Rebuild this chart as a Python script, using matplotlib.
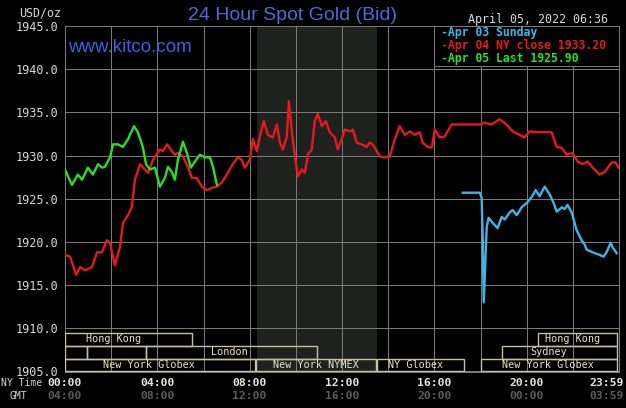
import matplotlib
matplotlib.use("Agg")
import matplotlib.pyplot as plt
from matplotlib.patches import Rectangle
import matplotlib.transforms as mtransforms

# ---------------- data (hours NY time, USD/oz) ----------------
red_hours = [0, 0.22, 0.48, 0.65, 0.87, 1.17, 1.39, 1.60, 1.82, 1.95, 2.16, 2.38, 2.51, 2.73, 2.90,
             3.03, 3.25, 3.46, 3.59, 3.81, 4.11, 4.24, 4.42, 4.63, 4.76, 4.89, 5.11, 5.32, 5.50,
             5.71, 5.93, 6.15, 6.41, 6.58, 6.80, 7.01, 7.27, 7.49, 7.66, 7.79, 8.01, 8.14, 8.31,
             8.44, 8.61, 8.79, 9.00, 9.18, 9.31, 9.44, 9.61, 9.70, 9.83, 9.96, 10.09, 10.26, 10.39,
             10.52, 10.69, 10.82, 10.95, 11.13, 11.30, 11.47, 11.69, 11.82, 11.99, 12.12, 12.34,
             12.47, 12.64, 12.86, 13.07, 13.20, 13.33, 13.51, 13.64, 13.85, 14.07, 14.29, 14.50,
             14.72, 14.94, 15.15, 15.37, 15.50, 15.71, 15.89, 16.02, 16.23, 16.45, 16.75, 17.97,
             18.18, 18.48, 18.83, 19.13, 19.39, 19.70, 19.91, 20.13, 20.43, 20.78, 21.08, 21.30,
             21.52, 21.73, 21.99, 22.21, 22.42, 22.64, 22.86, 23.16, 23.38, 23.68, 23.85, 23.98]
red_prices = [1918.5, 1918.3, 1916.2, 1917.1, 1916.7, 1917.1, 1918.8, 1918.8, 1920.2, 1919.9,
              1917.3, 1919.4, 1922.2, 1923.1, 1924.1, 1927.2, 1929.0, 1928.4, 1928.0, 1929.5,
              1930.7, 1930.5, 1931.3, 1930.5, 1930.1, 1930.3, 1929.9, 1928.7, 1927.4, 1927.4,
              1926.4, 1926.0, 1926.3, 1926.4, 1926.9, 1927.8, 1929.0, 1929.8, 1929.5, 1928.6,
              1929.5, 1931.9, 1930.5, 1932.2, 1934.0, 1932.4, 1932.1, 1933.6, 1931.5, 1930.7,
              1932.2, 1936.3, 1932.7, 1929.9, 1927.6, 1928.4, 1928.0, 1930.1, 1930.7, 1934.0,
              1934.8, 1933.4, 1934.0, 1932.7, 1932.1, 1930.7, 1931.9, 1933.0, 1932.8, 1933.0,
              1931.5, 1931.3, 1931.0, 1931.5, 1931.3, 1930.5, 1929.9, 1929.8, 1929.9, 1931.9,
              1933.4, 1932.4, 1932.8, 1932.4, 1932.7, 1931.5, 1931.0, 1930.9, 1933.0, 1932.1,
              1932.2, 1933.6, 1933.6, 1933.8, 1933.6, 1934.2, 1933.6, 1932.8, 1932.4, 1932.1,
              1932.8, 1932.7, 1932.7, 1932.7, 1931.0, 1930.9, 1930.1, 1930.3, 1929.3, 1929.0,
              1929.3, 1928.6, 1927.8, 1928.1, 1929.2, 1929.2, 1928.6]

green_hours = [0, 0.13, 0.30, 0.43, 0.56, 0.74, 0.99, 1.21, 1.43, 1.60, 1.73, 1.95, 2.08, 2.29,
               2.51, 2.73, 2.99, 3.16, 3.38, 3.51, 3.68, 3.90, 4.11, 4.33, 4.46, 4.63, 4.76, 4.89,
               5.11, 5.28, 5.45, 5.63, 5.84, 6.06, 6.28, 6.41, 6.58]
green_prices = [1928.4, 1927.6, 1926.6, 1927.2, 1927.8, 1927.2, 1928.6, 1927.8, 1929.0, 1928.6,
                1928.7, 1929.8, 1931.3, 1931.3, 1931.0, 1931.9, 1933.4, 1932.7, 1930.9, 1929.0,
                1928.4, 1928.6, 1926.4, 1927.4, 1928.7, 1928.1, 1927.2, 1929.5, 1931.6, 1930.3,
                1928.6, 1929.3, 1930.1, 1929.8, 1929.8, 1928.7, 1926.6]

cyan_hours = [17.23, 17.97, 18.05, 18.10, 18.14, 18.23, 18.27, 18.35, 18.53, 18.74, 18.92, 19.05,
              19.26, 19.39, 19.57, 19.78, 20.00, 20.22, 20.39, 20.56, 20.78, 21.00, 21.17, 21.30,
              21.52, 21.65, 21.77, 21.95, 22.16, 22.38, 22.51, 22.60, 22.86, 23.16, 23.33, 23.46,
              23.64, 23.72, 23.90]
cyan_prices = [1925.7, 1925.7, 1925.1, 1919.9, 1913.0, 1919.1, 1921.7, 1922.8, 1922.2, 1921.6,
               1922.9, 1922.6, 1923.4, 1923.7, 1923.1, 1924.0, 1924.5, 1925.2, 1926.0, 1925.3,
               1926.4, 1925.5, 1924.5, 1923.5, 1924.0, 1923.8, 1924.3, 1923.4, 1921.4, 1920.2,
               1919.7, 1919.1, 1918.8, 1918.5, 1918.3, 1918.8, 1919.9, 1919.4, 1918.7]

y_ticks = [1905, 1910, 1915, 1920, 1925, 1930, 1935, 1940, 1945]
ny_time_hours = [0, 4, 8, 12, 16, 20]
ny_time_labels = ["00:00", "04:00", "08:00", "12:00", "16:00", "20:00"]
gmt_labels = ["04:00", "08:00", "12:00", "16:00", "20:00", "00:00"]
end_label_ny = "23:59"
end_label_gmt = "03:59"

legend_labels = ["-Apr 03 Sunday", "-Apr 04 NY close 1933.20", "-Apr 05 Last 1925.90"]

comex_span = (8.33, 13.5)

# sessions: (row, start, end, label, label_x)
sessions = [
    (0, 0.0, 5.5, "Hong Kong", 2.12),
    (0, 20.5, 23.92, "Hong Kong", 22.0),
    (1, 0.0, 0.95, "", None),
    (1, 0.95, 3.5, "", None),
    (1, 3.5, 10.9, "London", 7.14),
    (1, 18.92, 23.92, "Sydney", 20.95),
    (2, 0.0, 8.22, "New York Globex", 3.64),
    (2, 8.27, 13.46, "New York NYMEX", 10.87),
    (2, 13.5, 17.27, "NY Globex", 15.17),
    (2, 18.0, 23.92, "New York Globex", 20.9),
]

# ---------------- styling ----------------
BG = "black"
GRID = "#7a7a7a"
RED = "#e61a1a"
GREEN = "#28e028"
CYAN = "#3cb6e8"
TICK = "#d8d8d8"
SESS_EDGE = "#c8c09c"
SESS_TEXT = "#ece6c8"
MONO = "DejaVu Sans Mono"

W, H = 626, 408
fig = plt.figure(figsize=(W / 100, H / 100), dpi=100, facecolor=BG)
ax = fig.add_axes([65 / W, (H - 371.5) / H, (619 - 65) / W, (371.5 - 26) / H], facecolor=BG)

ax.set_xlim(0, 24)
ax.set_ylim(1905, 1945)
ax.set_xticks(range(0, 25, 2))
ax.set_xticklabels([])
ax.set_yticks(y_ticks)
ax.set_yticklabels([f"{v:.1f}" for v in y_ticks], fontfamily=MONO, fontsize=8.5, color=TICK)
ax.tick_params(length=0, pad=5)
ax.set_axisbelow(True)
ax.grid(True, color=GRID, lw=0.72, snap=True)
for s in ax.spines.values():
    s.set_color(GRID)
    s.set_linewidth(0.72)

# COMEX shaded region
ax.axvspan(*comex_span, color="#1f211f", zorder=0.5, lw=0)

# data lines
ax.plot(cyan_hours, cyan_prices, color=CYAN, lw=1.7, zorder=4)
ax.plot(red_hours, red_prices, color=RED, lw=1.7, zorder=4)
ax.plot(green_hours, green_prices, color=GREEN, lw=1.7, zorder=5)

# session boxes
row_bounds = [(1908.0, 1909.5), (1906.5, 1908.0), (1905.05, 1906.5)]
for row, x0, x1, label, lx in sessions:
    y0, y1 = row_bounds[row]
    ax.add_patch(Rectangle((x0, y0), x1 - x0, y1 - y0, fill=False,
                           edgecolor=SESS_EDGE, lw=1.0, zorder=3))
    if label:
        ax.text(lx, (y0 + y1) / 2, label, ha="center", va="center", fontfamily=MONO,
                fontsize=7.3, color=SESS_TEXT, zorder=6)

# legend box
ax.add_patch(Rectangle((16, 1940.35), 8, 4.65, facecolor=BG, edgecolor=GRID, lw=0.72, zorder=3.5))
for i, (lab, col) in enumerate(zip(legend_labels, [CYAN, RED, GREEN])):
    fig.text(441 / W, 1 - (32.5 + 13 * i) / H, lab, ha="left", va="center",
             fontfamily=MONO, fontsize=8.3, color=col, fontweight="bold")

# titles
fig.text(293 / W, 1 - 16 / H, "24 Hour Spot Gold (Bid)", ha="center", va="center",
         fontfamily="Liberation Sans", fontsize=14, color="#5666d4")
fig.text(68 / W, 1 - 47.5 / H, "www.kitco.com", ha="left", va="center",
         fontfamily="Liberation Sans", fontsize=13.5, color="#3f5fe0")
fig.text(608 / W, 1 - 19 / H, "April 05, 2022 06:36", ha="right", va="center",
         fontfamily=MONO, fontsize=8.4, color=TICK)
fig.text(19 / W, 1 - 12.5 / H, "USD/oz", ha="left", va="center",
         fontfamily=MONO, fontsize=8.4, color=TICK)

# time axis labels
trans = mtransforms.blended_transform_factory(ax.transData, fig.transFigure)
y_ny = 1 - 383 / H
y_gmt = 1 - 396 / H
for h, lab, g in zip(ny_time_hours, ny_time_labels, gmt_labels):
    ax.text(h, y_ny, lab, transform=trans, ha="center", va="center", fontfamily=MONO,
            fontsize=8.2, color="#e4e4e4", fontweight="bold")
    ax.text(h, y_gmt, g, transform=trans, ha="center", va="center", fontfamily=MONO,
            fontsize=8.2, color="#5c5c5c", fontweight="bold")
fig.text(624 / W, y_ny, end_label_ny, ha="right", va="center", fontfamily=MONO,
         fontsize=8.2, color="#e4e4e4", fontweight="bold")
fig.text(624 / W, y_gmt, end_label_gmt, ha="right", va="center", fontfamily=MONO,
         fontsize=8.2, color="#5c5c5c", fontweight="bold")
fig.text(1 / W, y_ny, "NY Time", ha="left", va="center", fontfamily=MONO,
         fontsize=7.0, color=TICK)
fig.text(9 / W, y_gmt, "GMT", ha="left", va="center", fontfamily=MONO,
         fontsize=7.0, color=TICK)

fig.savefig("out.png", dpi=100, facecolor=BG)
